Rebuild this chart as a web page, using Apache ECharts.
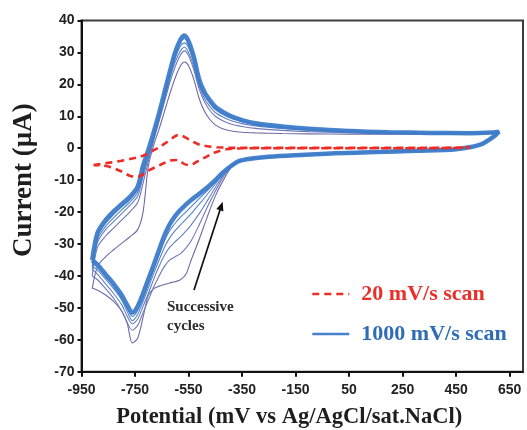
<!DOCTYPE html>
<html>
<head>
<meta charset="utf-8">
<script src="https://cdn.jsdelivr.net/npm/echarts@6/dist/echarts.min.js"></script>
<style>
html,body{margin:0;padding:0;background:#fff;}
#chart{width:527px;height:430px;}
</style>
</head>
<body>
<div id="chart"></div>
<script>
// Shared potential sweep (mV): anodic from left vertex, then cathodic back
const potential = [
  -910, -890, -860, -830, -800, -770, -740, -720, -700, -680, -660, -640, -620, -600, -580, -565, -550, -530, -510, -490, -470, -450, -420, -390, -350, -300, -200, -100, 50, 200, 350, 500, 580, 610,
  590, 540, 450, 300, 150, 0, -150, -250, -320, -360, -390, -420, -450, -480, -510, -540, -560, -580, -600, -620, -640, -660, -680, -700, -720, -740, -760, -780, -800, -830, -860, -890, -910
];
// 1000 mV/s successive cycles (current, µA)
const cycle1 = [
  -44, -37, -34, -31.8, -29.8, -27.8, -25.5, -20, -5.5, 1, 6, 11.5, 17, 22, 25.8, 27, 25.8, 21.5, 15.5, 11.5, 9, 7.3, 6, 5.4, 5, 4.8, 4.6, 4.5, 4.4, 4.4, 4.4, 4.5, 4.7, 5,
  3.5, 1.1, -0.3, -0.8, -1.2, -1.6, -2.2, -2.8, -3.5, -4.3, -6, -10, -15, -21.5, -28.5, -35, -39.5, -41.2, -41.8, -42.2, -42.7, -43.2, -44, -46, -53, -59.5, -61, -54.5, -51, -48, -46, -44.5, -43.8
];
const cycle2 = [
  -40, -31, -27.5, -25, -22.5, -20, -17, -11, -4, 2.5, 8.5, 14.5, 20.5, 25.5, 29.2, 30.5, 29, 24.5, 18.5, 14.5, 11.8, 10, 8.5, 7.5, 6.8, 6.2, 5.6, 5.2, 4.9, 4.7, 4.6, 4.6, 4.8, 5.1,
  3.6, 1.1, -0.3, -0.8, -1.2, -1.6, -2.2, -2.8, -3.4, -4.2, -5.8, -9, -13.5, -18.5, -24, -29, -31.3, -33, -34, -35, -37, -40, -43.5, -47.5, -51.5, -55.5, -57, -54.5, -51, -47, -44, -41.2, -40
];
const cycle3 = [
  -38, -29.5, -25.5, -23, -20.5, -18, -15, -9, -3, 3, 9.5, 15.5, 22, 27, 30.5, 31.6, 30, 25.5, 19.5, 15.5, 13, 11.2, 9.7, 8.6, 7.7, 7, 6.2, 5.7, 5.2, 4.9, 4.7, 4.6, 4.8, 5.1,
  3.6, 1.1, -0.3, -0.8, -1.2, -1.6, -2.2, -2.8, -3.4, -4.1, -5.7, -8.5, -12.3, -16.5, -20.5, -24, -26, -27.8, -29.3, -31, -33.5, -37, -41, -45.5, -49.5, -53.5, -55, -52.5, -49, -45.5, -42.5, -39.5, -38
];
const cycle4 = [
  -37, -28.5, -24.5, -21.8, -19.3, -17, -13.8, -8, -2.3, 3.5, 10, 16.3, 23, 28.2, 32, 33, 31.5, 26.8, 20.5, 16.5, 14, 12.1, 10.5, 9.3, 8.3, 7.4, 6.5, 5.9, 5.3, 5, 4.8, 4.7, 4.9, 5.2,
  3.6, 1.1, -0.3, -0.8, -1.2, -1.6, -2.2, -2.8, -3.4, -4.1, -5.6, -8, -11.2, -14.5, -17.5, -20.5, -22.3, -24, -25.8, -28, -31, -35, -39.2, -43.7, -48, -52, -54, -51, -47.5, -44, -41, -38.2, -37
];
const cycle5 = [
  -36, -27.5, -23.5, -20.8, -18.4, -16.2, -12.8, -7.2, -1.8, 4, 10.5, 17, 23.5, 29.2, 33.2, 34.3, 32.7, 27.8, 21, 17, 14.5, 12.6, 10.9, 9.7, 8.6, 7.6, 6.7, 6, 5.4, 5, 4.8, 4.7, 4.9, 5.2,
  3.6, 1.1, -0.3, -0.8, -1.2, -1.6, -2.2, -2.8, -3.3, -4, -5.5, -7.7, -10.5, -13.3, -15.8, -18.3, -20, -21.6, -23.5, -25.8, -29, -33.3, -37.8, -42.3, -46.8, -50.8, -52.7, -50, -46.8, -43.2, -40.3, -37.4, -36
];
const cycleFinal = [
  -35, -26.5, -22.5, -19.8, -17.5, -15.3, -12, -5.5, -0.5, 5, 11, 17.5, 24, 30, 34, 35.3, 33.5, 28.5, 21.5, 17.5, 15, 13, 11.3, 10, 8.8, 7.8, 6.8, 6.1, 5.4, 5, 4.8, 4.7, 4.9, 5.2,
  3.6, 1.1, -0.3, -0.8, -1.2, -1.6, -2.2, -2.7, -3.3, -4, -5.5, -7.5, -10, -12.3, -14.3, -16.2, -17.7, -19.3, -21.3, -23.8, -27.3, -31.8, -36.5, -41, -45.5, -49.5, -51.5, -49, -46, -42.5, -39.5, -36.5, -35
];
// 20 mV/s scan
const slowPotential = [
  -905, -860, -817, -770, -731, -700, -680, -657, -630, -610, -590, -575, -560, -545, -525, -508, -480, -445, -410, -380, -300, -150, 0, 150, 300, 450, 503,
  450, 300, 150, 0, -150, -300, -380, -408, -440, -460, -485, -508, -530, -545, -565, -590, -620, -657, -700, -742, -770, -800, -843, -875, -905
];
const slowCurrent = [
  -5.3, -4.7, -4.2, -3.4, -2.7, -1.6, -0.6, 0.4, 2, 3.2, 4.1, 3.9, 3.3, 2.6, 1.7, 1.1, 0.6, 0.3, 0.2, 0.1, 0.1, 0.1, 0.1, 0.1, 0.1, 0.2, 0.3,
  0.1, 0, 0, 0, 0, 0, -0.1, -0.3, -1, -1.6, -2.8, -3.7, -4.8, -5.3, -5, -3.7, -3.9, -5.3, -7, -9, -8.6, -7.3, -5.9, -5.4, -5.3
];
const xTicks = [-950, -750, -550, -350, -150, 50, 250, 450, 650];
const seriesNames = ['20 mV/s scan', '1000 mV/s scan'];

const pair = (xs, ys) => xs.map((x, i) => [x, ys[i]]);
const thinCycles = [cycle1, cycle2, cycle3, cycle4, cycle5];
const thinColors = ['#6e6aa8', '#6f78b8', '#6380c2', '#5684c8', '#4c82ca'];

const series = thinCycles.map((c, i) => ({
  name: 'cycle' + (i + 1),
  type: 'line',
  data: pair(potential, c),
  symbol: 'none',
  smooth: 0.3,
  lineStyle: { color: thinColors[i], width: 1.1 },
  z: 2
}));
series.push({
  name: seriesNames[1],
  type: 'line',
  data: pair(potential, cycleFinal),
  symbol: 'none',
  smooth: 0.3,
  color: '#3d7cc9',
  lineStyle: { color: '#3d7cc9', width: 4.5, opacity: 0.95 },
  z: 3
});
series.push({
  name: seriesNames[0],
  type: 'line',
  data: pair(slowPotential, slowCurrent),
  symbol: 'none',
  smooth: 0.3,
  color: '#ee2b25',
  lineStyle: { color: '#ee2b25', width: 2.6, type: [7, 5] },
  z: 4
});

const chart = echarts.init(document.getElementById('chart'), null, { renderer: 'canvas' });
chart.setOption({
  animation: false,
  backgroundColor: '#ffffff',
  grid: { left: 81.5, right: 4, top: 20.5, bottom: 58.3, outerBoundsMode: 'none', containLabel: false, show: true, borderColor: '#3c3c3c', borderWidth: 2, backgroundColor: 'transparent' },
  xAxis: {
    type: 'value', min: -950, max: 700,
    name: 'Potential (mV vs Ag/AgCl/sat.NaCl)',
    nameLocation: 'middle', nameGap: 34,
    nameTextStyle: { fontFamily: 'Liberation Serif', fontWeight: 'bold', fontSize: 22.5, color: '#1e1e1e', padding: [0, 26, 0, 0] },
    axisLine: { onZero: false, lineStyle: { color: '#111', width: 2 } },
    axisTick: { show: true, length: 5, lineStyle: { color: '#111', width: 2 }, customValues: xTicks },
    axisLabel: { customValues: xTicks, margin: 11, fontFamily: 'Liberation Sans', fontWeight: 'bold', fontSize: 14, color: '#222' },
    splitLine: { show: false }
  },
  yAxis: {
    type: 'value', min: -70, max: 40, interval: 10,
    name: 'Current (µA)',
    nameLocation: 'middle', nameGap: 44, nameRotate: 90,
    nameTextStyle: { fontFamily: 'Liberation Serif', fontWeight: 'bold', fontSize: 27, color: '#1e1e1e', padding: [0, 0, 0, 32] },
    axisLine: { onZero: false, lineStyle: { color: '#111', width: 2 } },
    axisTick: { show: true, length: 4, lineStyle: { color: '#111', width: 2 } },
    axisLabel: { margin: 7, fontFamily: 'Liberation Sans', fontWeight: 'bold', fontSize: 14, color: '#222' },
    splitLine: { show: false }
  },
  legend: {
    data: [
      { name: seriesNames[0], textStyle: { color: '#e8302a' } },
      { name: seriesNames[1], textStyle: { color: '#2f6cb8' } }
    ],
    orient: 'vertical',
    left: 306, top: 277,
    itemWidth: 37, itemHeight: 14, itemGap: 16,
    itemStyle: { opacity: 0 },
    textStyle: { fontFamily: 'Liberation Serif', fontWeight: 'bold', fontSize: 22, lineHeight: 24, padding: [0, 0, 0, 7] },
    lineStyle: { width: 2.6 },
    selectedMode: false
  },
  graphic: [
    { type: 'text', left: 167, top: 298, z: 10,
      style: { text: 'Successive\ncycles', font: 'bold 15px "Liberation Serif"', lineHeight: 19, fill: '#2a2a2a' } },
    { type: 'line', z: 10, shape: { x1: 194, y1: 290, x2: 220, y2: 210 }, style: { stroke: '#111', lineWidth: 1.7 } },
    { type: 'polygon', z: 10, shape: { points: [[222.7, 201.7], [223.4, 211.6], [216.4, 209.1]] }, style: { fill: '#111' } }
  ],
  series: series
});
</script>
</body>
</html>
